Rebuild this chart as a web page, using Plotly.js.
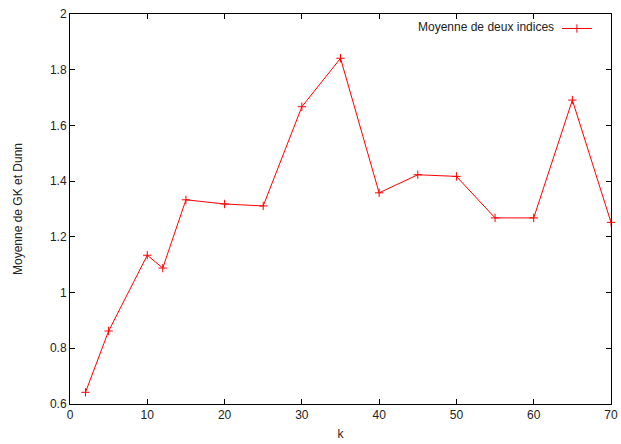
<!DOCTYPE html>
<html>
<head>
<meta charset="utf-8">
<script src="https://cdn.plot.ly/plotly-3.0.1.min.js"></script>
<style>html,body{margin:0;padding:0;background:#fff;}#chart{width:621px;height:444px;}</style>
</head>
<body>
<div id="chart"></div>
<script>
const kValues = [2, 5, 10, 12, 15, 20, 25, 30, 35, 40, 45, 50, 55, 60, 65, 70];
const meanValues = [0.642, 0.862, 1.134, 1.088, 1.333, 1.318, 1.311, 1.667, 1.841, 1.358, 1.423, 1.417, 1.268, 1.268, 1.691, 1.252];
const seriesName = 'Moyenne de deux indices';
const xTitle = 'k';
const yTitle = 'Moyenne de GK et Dunn';

const font = {family: 'Liberation Sans, Arial, sans-serif', size: 12, color: '#222'};

const trace = {
  x: kValues, y: meanValues, type: 'scatter', mode: 'lines+markers',
  name: ' ', showlegend: true,
  line: {color: '#ff0000', width: 1},
  marker: {symbol: 'cross-thin-open', size: 6, line: {color: '#ff0000', width: 1}, color: '#ff0000'},
  cliponaxis: false
};

const axisCommon = {
  showline: true, linecolor: '#000', linewidth: 1, mirror: 'ticks',
  ticks: 'inside', ticklen: 5, tickcolor: '#000', tickwidth: 1,
  showgrid: false, zeroline: false, tickfont: font
};

const layout = {
  width: 621, height: 444,
  margin: {l: 70, r: 10, t: 14, b: 40},
  paper_bgcolor: '#fff', plot_bgcolor: '#fff',
  font: font,
  xaxis: Object.assign({}, axisCommon, {range: [0, 70], dtick: 10, tick0: 0,
    title: {text: xTitle, font: font, standoff: 8}}),
  yaxis: Object.assign({}, axisCommon, {range: [0.6, 2], dtick: 0.2, tick0: 0.6,
    title: {text: yTitle, font: font, standoff: 24}}),
  showlegend: true,
  legend: {x: 0.9, y: 1, xanchor: 'left', yanchor: 'top', bgcolor: 'rgba(0,0,0,0)',
    borderwidth: 0, font: font, itemwidth: 30},
  annotations: [{text: seriesName, xref: 'paper', yref: 'paper', x: 0.898, y: 1,
    xanchor: 'right', yanchor: 'top', showarrow: false, font: font, yshift: -4}]
};

Plotly.newPlot('chart', [trace], layout, {displayModeBar: false, staticPlot: true});
</script>
</body>
</html>
